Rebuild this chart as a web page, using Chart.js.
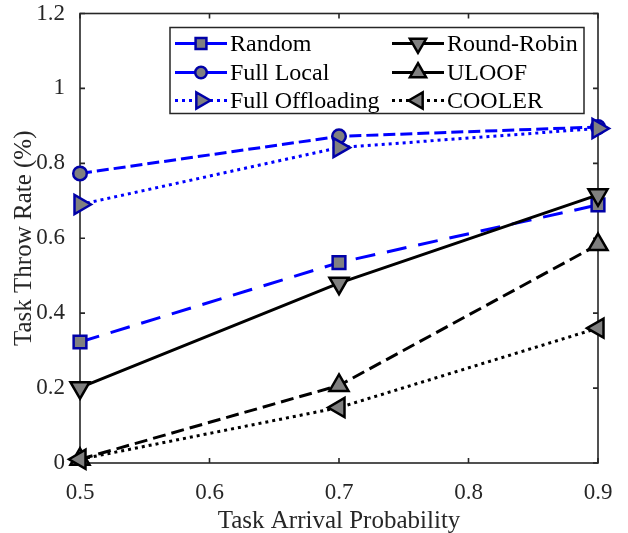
<!DOCTYPE html>
<html><head><meta charset="utf-8">
<script src="https://cdn.jsdelivr.net/npm/chart.js@4/dist/chart.umd.min.js"></script>
<style>html,body{margin:0;padding:0;background:#fff}#wrap{width:628px;height:533px}</style>
</head><body><div id="wrap"><canvas id="c" width="628" height="533"></canvas></div>
<script>
const xValues = [0.5, 0.7, 0.9];
const seriesNames = ['Random', 'Full Local', 'Full Offloading', 'Round-Robin', 'ULOOF', 'COOLER'];
const randomRate = [0.323, 0.535, 0.689];
const fullLocalRate = [0.773, 0.872, 0.897];
const fullOffloadingRate = [0.690, 0.842, 0.893];
const roundRobinRate = [0.201, 0.480, 0.716];
const uloofRate = [0.010, 0.207, 0.583];
const coolerRate = [0.010, 0.148, 0.360];
const xTicks = [0.5, 0.6, 0.7, 0.8, 0.9];
const yTicks = [0, 0.2, 0.4, 0.6, 0.8, 1, 1.2];
const xTitle = 'Task Arrival Probability';
const yTitle = 'Task Throw Rate (%)';

const SERIF = "'Liberation Serif', 'Times New Roman', serif";
const AX = '#262626';
const BLUE = '#0000ff', DBLUE = '#0000a8', GRAY = '#808080';

const styles = [
  {color: BLUE, edge: DBLUE, dash: [20, 12], legendDash: [], point: 'rect', rot: 0, r: 9},
  {color: BLUE, edge: DBLUE, dash: [12, 5], legendDash: [], point: 'circle', rot: 0, r: 6.8},
  {color: BLUE, edge: DBLUE, dash: [3, 4], legendDash: [3, 4], point: 'triangle', rot: 90, r: 11},
  {color: '#000', edge: '#000', dash: [], legendDash: [], point: 'triangle', rot: 180, r: 11},
  {color: '#000', edge: '#000', dash: [13, 6], legendDash: [], point: 'triangle', rot: 0, r: 11},
  {color: '#000', edge: '#000', dash: [3, 4], legendDash: [3, 4], point: 'triangle', rot: 270, r: 11}
];
const seriesValues = [randomRate, fullLocalRate, fullOffloadingRate, roundRobinRate, uloofRate, coolerRate];

const datasets = seriesValues.map((vals, i) => ({
  label: seriesNames[i],
  data: xValues.map((x, j) => ({x: x, y: vals[j]})),
  borderColor: styles[i].color,
  borderWidth: 3,
  borderDash: styles[i].dash,
  pointStyle: styles[i].point,
  pointRotation: styles[i].rot,
  pointRadius: styles[i].r,
  pointBackgroundColor: GRAY,
  pointBorderColor: styles[i].edge,
  pointBorderWidth: 2.5,
  tension: 0,
  clip: false,
  order: 10 - i
}));

const framePlugin = {
  id: 'frame',
  beforeDatasetsDraw(chart) {
    const {ctx, chartArea: a, scales: {x, y}} = chart;
    ctx.save();
    ctx.strokeStyle = AX;
    ctx.lineWidth = 1.6;
    ctx.setLineDash([]);
    ctx.strokeRect(a.left, a.top, a.right - a.left, a.bottom - a.top);
    const tl = 5;
    ctx.beginPath();
    xTicks.forEach(v => {
      const px = x.getPixelForValue(v);
      ctx.moveTo(px, a.bottom); ctx.lineTo(px, a.bottom - tl);
      ctx.moveTo(px, a.top); ctx.lineTo(px, a.top + tl);
    });
    yTicks.forEach(v => {
      const py = y.getPixelForValue(v);
      ctx.moveTo(a.left, py); ctx.lineTo(a.left + tl, py);
      ctx.moveTo(a.right, py); ctx.lineTo(a.right - tl, py);
    });
    ctx.stroke();
    ctx.restore();
  }
};

const legendPlugin = {
  id: 'boxLegend',
  afterDraw(chart) {
    const {ctx, chartArea: a} = chart;
    const l = a.left + 90, t = a.top + 14, r = a.right - 14, b = a.top + 100;
    ctx.save();
    ctx.fillStyle = '#fff';
    ctx.fillRect(l, t, r - l, b - t);
    ctx.strokeStyle = AX;
    ctx.lineWidth = 1.5;
    ctx.setLineDash([]);
    ctx.strokeRect(l, t, r - l, b - t);
    const rowY = [t + 16, t + 45, t + 73];
    const cols = [l + 5, l + 222];
    ctx.font = '24px ' + SERIF;
    ctx.textBaseline = 'middle';
    seriesNames.forEach((name, i) => {
      const st = styles[i];
      const cx = cols[Math.floor(i / 3)];
      const cy = rowY[i % 3];
      ctx.strokeStyle = st.color;
      ctx.lineWidth = 3;
      ctx.setLineDash(st.legendDash);
      ctx.lineCap = 'butt';
      ctx.beginPath();
      ctx.moveTo(cx, cy); ctx.lineTo(cx + 52, cy);
      ctx.stroke();
      ctx.setLineDash([]);
      ctx.fillStyle = GRAY;
      ctx.strokeStyle = st.edge;
      ctx.lineWidth = 2.5;
      Chart.helpers.drawPoint(ctx, {pointStyle: st.point, rotation: st.rot, radius: st.r * 0.85, borderWidth: 2.5}, cx + 26, cy);
      ctx.fillStyle = '#000';
      ctx.textAlign = 'left';
      ctx.fillText(name, cx + 55, cy + 1);
    });
    ctx.restore();
  }
};

new Chart(document.getElementById('c'), {
  type: 'line',
  data: {datasets: datasets},
  options: {
    responsive: false,
    animation: false,
    devicePixelRatio: 1,
    layout: {padding: {left: 0, right: 30, top: 8, bottom: 0}},
    plugins: {legend: {display: false}, tooltip: {enabled: false}},
    scales: {
      x: {
        type: 'linear', min: 0.5, max: 0.9,
        afterBuildTicks: s => { s.ticks = xTicks.map(v => ({value: v})); },
        afterFit: s => { s.height = 70; s.paddingLeft = 0; s.paddingRight = 0; },
        grid: {display: false}, border: {display: false},
        ticks: {color: AX, font: {family: SERIF, size: 23}, padding: 8, maxRotation: 0,
                callback: v => String(Number(v.toFixed(1)))},
        title: {display: true, text: xTitle, color: AX, font: {family: SERIF, size: 25, lineHeight: 0.9}, padding: {top: 0, bottom: 0}}
      },
      y: {
        type: 'linear', min: 0, max: 1.2,
        afterBuildTicks: s => { s.ticks = yTicks.map(v => ({value: v})); },
        afterFit: s => { s.width = 80; s.paddingTop = 0; s.paddingBottom = 0; },
        grid: {display: false}, border: {display: false},
        ticks: {color: AX, font: {family: SERIF, size: 23}, padding: 7,
                callback: v => String(Number(v.toFixed(1)))},
        title: {display: true, text: yTitle, color: AX, font: {family: SERIF, size: 25, lineHeight: 1}, padding: {top: 12, bottom: 0}}
      }
    }
  },
  plugins: [framePlugin, legendPlugin]
});
</script>
</body></html>
